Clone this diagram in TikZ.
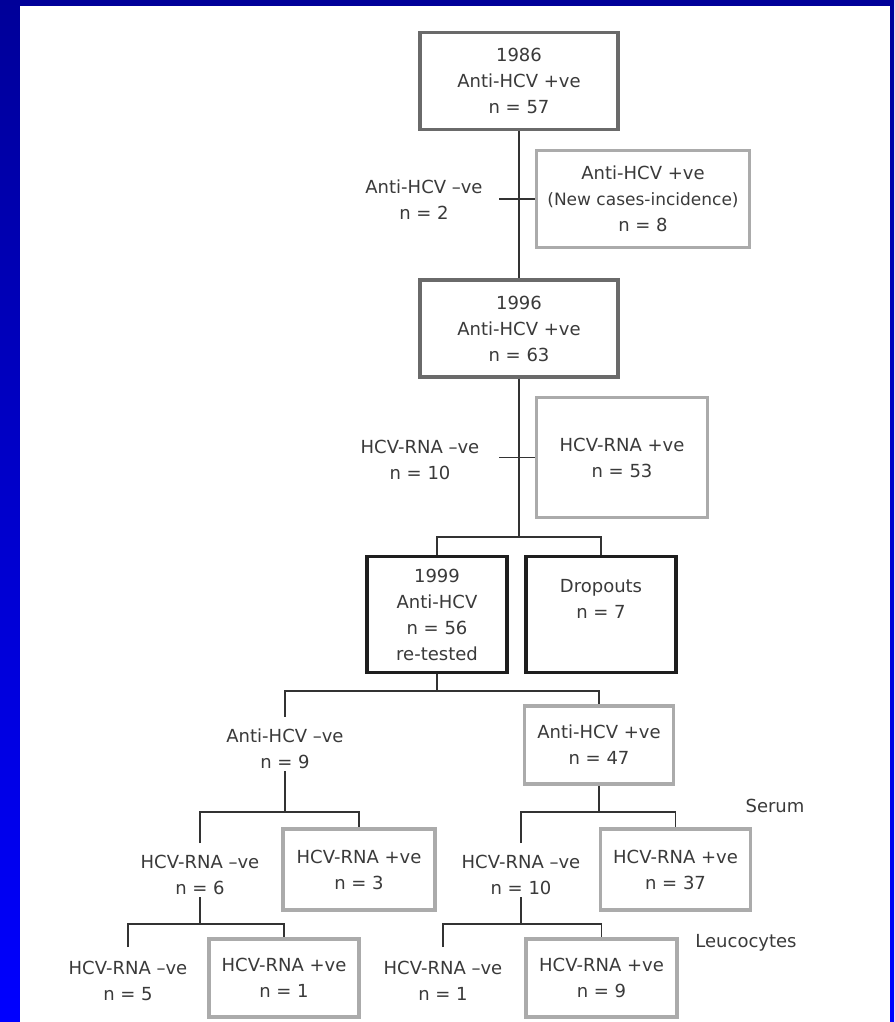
\documentclass[tikz,border=0pt]{standalone}
\usepackage{fontspec}
\setmainfont{DejaVu Sans}
\definecolor{framedark}{HTML}{000099}
\definecolor{framebright}{HTML}{0000FF}
\definecolor{inkgray}{HTML}{3A3A3A}
\definecolor{linkgray}{HTML}{333333}
\definecolor{boxdark}{HTML}{6A6A6A}
\definecolor{boxlight}{HTML}{ABABAB}
\definecolor{boxblack}{HTML}{1E1E1E}

\begin{document}
\begin{tikzpicture}[x=1pt, y=-1pt,
    every node/.style={font=\fontsize{18}{26}\selectfont, text=inkgray, align=center, inner sep=2pt},
    darkbox/.style={draw=boxdark, line width=3.2pt},
    lightbox/.style={draw=boxlight, line width=3.2pt},
    blackbox/.style={draw=boxblack, line width=3.8pt},
    link/.style={draw=linkgray, line width=1.5pt},
]
\useasboundingbox (0,0) rectangle (894,1022);
\shade[top color=framedark, bottom color=framebright] (0,0) rectangle (894,1022);
\fill[white] (20,6) rectangle (890,1022);

\node[darkbox, minimum width=198pt, minimum height=97pt] (b86) at (519,81) {1986\\Anti-HCV +ve\\n = 57};
\node (neg86) at (424,200) {Anti-HCV –ve\\n = 2};
\node[lightbox, minimum width=213pt, minimum height=97pt] (new86) at (643,199) {Anti-HCV +ve\\{\fontsize{17}{26}\selectfont (New cases-incidence)}\\n = 8};
\node[darkbox, minimum width=198pt, minimum height=97pt] (b96) at (519,328.5) {1996\\Anti-HCV +ve\\n = 63};
\node (neg96) at (420,460) {HCV-RNA –ve\\n = 10};
\node[lightbox, minimum width=171pt, minimum height=120pt] (pos96) at (622,457.5) {HCV-RNA +ve\\n = 53};
\node[blackbox, minimum width=140pt, minimum height=116pt] (b99) at (437,614.5) {\fontsize{18}{27.5}\selectfont 1999\\Anti-HCV\\n = 56\\re-tested};
\node[blackbox, minimum width=150pt, minimum height=116pt, text depth=32pt] (drop99) at (601,614.5) {Dropouts\\n = 7};
\node (neg99) at (285,749) {Anti-HCV –ve\\n = 9};
\node[lightbox, minimum width=149pt, minimum height=78pt] (pos99) at (599,745) {Anti-HCV +ve\\n = 47};
\node (serum) at (775,806) {Serum};
\node (negA) at (200,875) {HCV-RNA –ve\\n = 6};
\node[lightbox, minimum width=152pt, minimum height=81pt] (posA) at (359,869.5) {HCV-RNA +ve\\n = 3};
\node (negB) at (521,875) {HCV-RNA –ve\\n = 10};
\node[lightbox, minimum width=150pt, minimum height=81pt] (posB) at (675.5,869.5) {HCV-RNA +ve\\n = 37};
\node (leuco) at (746,943) {Leucocytes};
\node (negA2) at (128,981) {HCV-RNA –ve\\n = 5};
\node[lightbox, minimum width=150pt, minimum height=78pt] (posA2) at (284,978) {HCV-RNA +ve\\n = 1};
\node (negB2) at (443,981) {HCV-RNA –ve\\n = 1};
\node[lightbox, minimum width=151pt, minimum height=78pt] (posB2) at (601.5,978) {HCV-RNA +ve\\n = 9};

\coordinate (t86) at (499,199);
\coordinate (t96) at (499,457.5);
\coordinate (j96) at (519,537);
\coordinate (j99) at (437,691);
\coordinate (jn9) at (285,812);
\coordinate (j47) at (599,812);
\coordinate (jn6) at (200,924);
\coordinate (jn10) at (521,924);

\draw[link] (b86) -- (b96);
\draw[link] (t86) -- (new86.west);
\draw[link] (t96) -- (pos96.west);
\draw[link] (b96.south) -- (j96);
\draw[link] (b99.north) |- (j96) -| (drop99.north);
\draw[link] (b99.south) -- (j99);
\draw[link] ([yshift=10pt]neg99.north) |- (j99) -| (pos99.north);
\draw[link] (neg99.south) -- (jn9);
\draw[link] ([yshift=10pt]negA.north) |- (jn9) -| (posA.north);
\draw[link] (pos99.south) -- (j47);
\draw[link] ([yshift=10pt]negB.north) |- (j47) -| (posB.north);
\draw[link] (negA.south) -- (jn6);
\draw[link] ([yshift=12pt]negA2.north) |- (jn6) -| (posA2.north);
\draw[link] (negB.south) -- (jn10);
\draw[link] ([yshift=12pt]negB2.north) |- (jn10) -| (posB2.north);
\end{tikzpicture}
\end{document}
